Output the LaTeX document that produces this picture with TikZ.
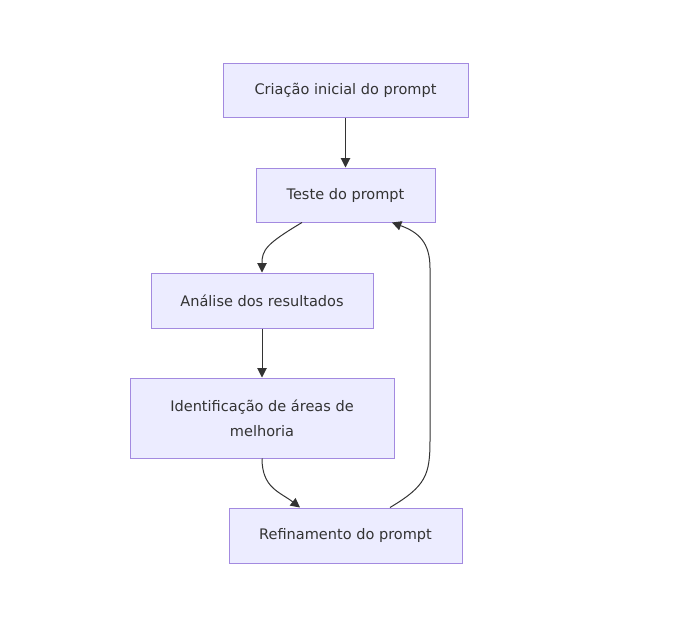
\documentclass[tikz,border=0pt]{standalone}
\usepackage{fontspec}
\setmainfont{DejaVu Sans}
\usepackage{tikz}
\usetikzlibrary{arrows.meta}
\usetikzlibrary{calc}

\definecolor{boxfill}{HTML}{ECECFF}
\definecolor{boxline}{HTML}{A38AE0}
\definecolor{ink}{HTML}{333333}

\begin{document}
\begin{tikzpicture}[x=0.75pt,y=-0.75pt,
    etapa/.style={draw=boxline,fill=boxfill,line width=0.75pt,text=ink,
        font=\fontsize{10.9}{18.5}\selectfont,align=center,inner sep=0pt},
    seta/.style={draw=ink,line width=0.75pt,-{Triangle[length=7pt,width=7pt]}}]
            \useasboundingbox (0,0) rectangle (699,625);
            \node[etapa,minimum width=183.75pt,minimum height=40.5pt] (criacao) at (345.5,90){Criação inicial do prompt};
            \node[etapa,minimum width=134.25pt,minimum height=40.5pt] (teste) at (345.5,195){Teste do prompt};
            \node[etapa,minimum width=166.5pt,minimum height=41.25pt] (analise) at (262,300.5){Análise dos resultados};
            \node[etapa,minimum width=198pt,minimum height=60pt] (identificacao) at (262,418){Identificação de áreas de\\melhoria};
            \node[etapa,minimum width=174.75pt,minimum height=41.25pt] (refinamento) at (345.5,535.5){Refinamento do prompt};

            \draw[seta] (criacao) -- (teste);
            \draw[seta] ($(teste.south)+(-43.5,0)$) .. controls (266,244) and (262,250) .. (analise.north);
            \draw[seta] (analise) -- (identificacao);
            \draw[seta] (identificacao.south) .. controls (262,488) and (280,492) .. ($(refinamento.north)+(-45.5,0)$);
            \draw[seta] ($(refinamento.north)+(44.5,0)$) .. controls (426,486) and (430,475) .. (430,440)
                -- (430,268) .. controls (430,242) and (418,232) .. ($(teste.south)+(46.5,0)$);
        \end{tikzpicture}
\end{document}
